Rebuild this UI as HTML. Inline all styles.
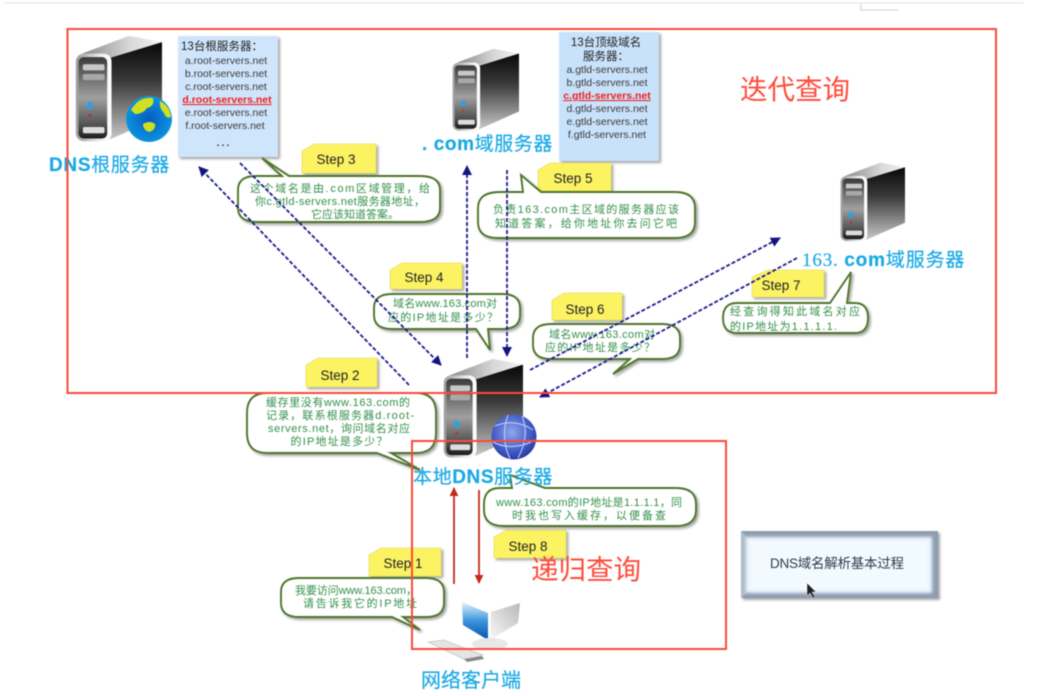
<!DOCTYPE html>
<html><head><meta charset="utf-8">
<style>
html,body{margin:0;padding:0;background:#fff;width:1048px;height:696px;overflow:hidden}
svg{display:block;filter:blur(.5px)}
text{font-family:"Liberation Sans","Noto Sans CJK SC",sans-serif}
.g{fill:#33904a;font-size:11px;text-anchor:middle}
.n{fill:#3a3a3a;font-size:10.5px;text-anchor:middle}
.s{fill:#222;font-size:13.5px;text-anchor:middle}
.b{fill:#1aa9e4;font-size:19px;stroke:#1aa9e4;stroke-width:.2}
.r{fill:#ff4b3a;font-size:27.5px}
.note{fill:#fcf364;stroke:#e0d850;stroke-width:.6;filter:url(#sh)}
.co{fill:#fff;stroke:#50752c;stroke-width:1.9;filter:url(#sh)}
.ar{stroke:#1b1b8f;stroke-width:1.8;stroke-dasharray:4 2;fill:none}
</style></head><body>
<svg width="1048" height="696" viewBox="0 0 1048 696" xmlns="http://www.w3.org/2000/svg">
<defs>
<filter id="sh" x="-10%" y="-10%" width="125%" height="130%"><feDropShadow dx="2" dy="2" stdDeviation="1.2" flood-color="#000" flood-opacity=".35"/></filter>
<filter id="bl" x="-10%" y="-20%" width="120%" height="140%"><feGaussianBlur stdDeviation="3"/></filter>
<filter id="sb" x="-20%" y="-20%" width="140%" height="140%"><feGaussianBlur stdDeviation="1.5"/></filter>
<linearGradient id="side" x1="0" y1="0" x2="0" y2="1"><stop offset="0" stop-color="#080808"/><stop offset=".4" stop-color="#3a3a3a"/><stop offset="1" stop-color="#c8c8c8"/></linearGradient>
<linearGradient id="front" x1="0" y1="0" x2="0" y2="1"><stop offset="0" stop-color="#3a3a3a"/><stop offset=".5" stop-color="#a0a0a0"/><stop offset=".82" stop-color="#555"/><stop offset="1" stop-color="#1c1c1c"/></linearGradient>
<linearGradient id="rim" x1="0" y1="0" x2="1" y2="0"><stop offset="0" stop-color="#9a9a9a"/><stop offset=".7" stop-color="#eee"/><stop offset="1" stop-color="#fff"/></linearGradient>
<linearGradient id="top" x1="0" y1="0" x2="1" y2="0"><stop offset="0" stop-color="#8a8a8a"/><stop offset=".6" stop-color="#d8d8d8"/><stop offset="1" stop-color="#f2f2f2"/></linearGradient>
<radialGradient id="blue" cx=".45" cy=".4" r=".65"><stop offset="0" stop-color="#8fa8ee"/><stop offset=".7" stop-color="#3c55c4"/><stop offset="1" stop-color="#22348f"/></radialGradient>
<radialGradient id="earth" cx=".5" cy=".5" r=".6"><stop offset="0" stop-color="#0a5cc0"/><stop offset=".8" stop-color="#0a90dd"/><stop offset="1" stop-color="#60d8f2"/></radialGradient>
<linearGradient id="scr" x1="0" y1="0" x2="0" y2="1"><stop offset="0" stop-color="#e4f4fb"/><stop offset=".5" stop-color="#3a94dc"/><stop offset="1" stop-color="#0b4fb0"/></linearGradient>
<linearGradient id="mon" x1="1" y1="0" x2="0" y2="1"><stop offset="0" stop-color="#b8b8b8"/><stop offset="1" stop-color="#fafafa"/></linearGradient>
<g id="srv">
<polygon points="8,21 62,1 100,8 40,27" fill="url(#top)"/>
<polygon points="40,26 100,8 100,92 40,118" fill="url(#side)"/>
<rect x="1" y="21" width="41" height="99" rx="9" fill="url(#rim)"/>
<rect x="4" y="25" width="33" height="92" rx="6" fill="url(#front)"/>
<rect x="9" y="33" width="25" height="7" rx="2" fill="#c8c8c8"/>
<rect x="9" y="44" width="25" height="7" rx="2" fill="#a8a8a8"/>
<rect x="9" y="104" width="25" height="7" rx="2" fill="#ddd"/>
<ellipse cx="17" cy="80" rx="3.5" ry="4.5" fill="#2aa0e8"/>
<circle cx="17" cy="91" r="1.5" fill="#d02020"/>
</g>
<marker id="ah" viewBox="0 0 10 10" refX="9" refY="5" markerWidth="11" markerHeight="10" markerUnits="userSpaceOnUse" orient="auto"><path d="M0,0L10,5L0,10z" fill="#14147f"/></marker>
<marker id="rh" viewBox="0 0 10 10" refX="9" refY="5" markerWidth="9" markerHeight="9" markerUnits="userSpaceOnUse" orient="auto"><path d="M0,0L10,5L0,10z" fill="#c5281c"/></marker>
</defs>

<line x1="4" y1="3" x2="1024" y2="3" stroke="#e2e2e2" stroke-width="1"/>
<path d="M861,4V10H898" fill="none" stroke="#cfcfcf"/>

<use href="#srv" transform="translate(75,35) scale(.87,.885)"/>
<use href="#srv" transform="translate(452,48) scale(.67,.69)"/>
<use href="#srv" transform="translate(840,162) scale(.65,.66)"/>
<use href="#srv" transform="translate(443,358) scale(.8,.83)"/>

<circle cx="149" cy="119" r="23" fill="url(#earth)"/>
<path d="M131,110q8,-14 22,-12q2,8 -6,10q-4,6 -12,6zM160,101q10,5 11,16q-5,2 -7,-4q-5,-5 -4,-12zM143,124q7,-4 12,0q1,6 -6,8q-6,-2 -6,-8z" fill="#cfe020"/>
<circle cx="514" cy="437" r="22.5" fill="url(#blue)"/>
<path d="M495,426q20,-8 38,4M493,442q20,10 42,-2M508,415q-8,22 2,44M522,416q8,20 -4,42" fill="none" stroke="#c8d4ff" stroke-width="1"/>

<polygon points="462,602 488,613 488,640 463,625" fill="url(#scr)"/>
<polygon points="491,612 520,603 518,623 490,640" fill="url(#mon)"/>
<ellipse cx="490" cy="644" rx="18" ry="6" fill="#e8e8e8"/>
<polygon points="428,642 444,640 483,655 466,660" fill="#e4e4e4" stroke="#b5b5b5" stroke-width=".6"/>
<polygon points="464,659 482,656 484,659 467,662" fill="#888"/>

<rect x="178" y="36" width="100" height="121" fill="#cfe5fb" filter="url(#sh)"/>
<text x="222" y="50" class="n" style="fill:#222;font-size:11.5px" textLength="82">13台根服务器：</text>
<text x="226" y="64" class="n">a.root-servers.net</text>
<text x="226" y="77" class="n">b.root-servers.net</text>
<text x="226" y="90" class="n">c.root-servers.net</text>
<text x="227" y="103" class="n" style="fill:#f02020;font-weight:bold;text-decoration:underline">d.root-servers.net</text>
<text x="226" y="116" class="n">e.root-servers.net</text>
<text x="225" y="129" class="n">f.root-servers.net</text>
<text x="224" y="146" class="n" style="font-weight:bold;letter-spacing:2px">...</text>

<rect x="559" y="32" width="100" height="129" fill="#c9e2fb" filter="url(#sh)"/>
<text x="606" y="46" class="n" style="fill:#222;font-size:11.5px">13台顶级域名</text>
<text x="606" y="60" class="n" style="fill:#222;font-size:11.5px">服务器：</text>
<text x="607" y="73" class="n">a.gtld-servers.net</text>
<text x="607" y="86" class="n">b.gtld-servers.net</text>
<text x="607" y="99" class="n" style="fill:#f02020;font-weight:bold;text-decoration:underline">c.gtld-servers.net</text>
<text x="607" y="112" class="n">d.gtld-servers.net</text>
<text x="607" y="125" class="n">e.gtld-servers.net</text>
<text x="607" y="138" class="n">f.gtld-servers.net</text>

<polygon class="note" points="314,144 376,144 376,173 302,173 302,151"/>
<polygon class="note" points="550,163 611,163 611,191 538,191 538,170"/>
<polygon class="note" points="402,263 462,263 462,289 390,289 390,270"/>
<polygon class="note" points="564,293 622,293 622,320 552,320 552,300"/>
<polygon class="note" points="768,270 824,270 824,297 752,297 752,277"/>
<polygon class="note" points="318,358 377,358 377,387 306,387 306,365"/>
<polygon class="note" points="506,530 566,530 566,558 494,558 494,537"/>
<polygon class="note" points="381,548 441,548 441,576 369,576 369,555"/>
<text x="336" y="164" class="s">Step 3</text>
<text x="573" y="183" class="s">Step 5</text>
<text x="424" y="282" class="s">Step 4</text>
<text x="585" y="314" class="s">Step 6</text>
<text x="781" y="290" class="s">Step 7</text>
<text x="340" y="380" class="s">Step 2</text>
<text x="528" y="551" class="s">Step 8</text>
<text x="403" y="568" class="s">Step 1</text>

<path class="co" d="M256,176H282L262,158L289,176H420Q440,176 440,190V208Q440,222 420,222H258Q238,222 238,208V190Q238,176 256,176Z"/>
<text x="340" y="192" class="g" textLength="180">这个域名是由.com区域管理，给</text>
<text x="340" y="205" class="g" textLength="170">你c.gtld-servers.net服务器地址，</text>
<text x="355" y="218" class="g">它应该知道答案。</text>

<path class="co" d="M500,192H523L521,175L541,192H675Q695,192 695,208V222Q695,238 675,238H498Q478,238 478,222V208Q478,192 500,192Z"/>
<text x="586" y="213" class="g" textLength="186">负责163.com主区域的服务器应该</text>
<text x="586" y="227" class="g" textLength="182">知道答案，给你地址你去问它吧</text>

<path class="co" d="M392,294H502Q520,294 520,308V315Q520,329 502,329H488L490,350L476,329H392Q374,329 374,315V308Q374,294 392,294Z"/>
<text x="445" y="307" class="g" textLength="104">域名www.163.com对</text>
<text x="443" y="321" class="g" textLength="110">应的IP地址是多少？</text>

<path class="co" d="M551,324H662Q680,324 680,338V345Q680,359 662,359H638L613,374L630,359H551Q533,359 533,345V338Q533,324 551,324Z"/>
<text x="602" y="338" class="g" textLength="106">域名www.163.com对</text>
<text x="600" y="351" class="g" textLength="110">应的IP地址是多少？</text>

<path class="co" d="M737,303H830L851,272L847,303H855Q868,303 868,318Q868,333 855,333H737Q723,333 723,318Q723,303 737,303Z"/>
<text x="795" y="315" class="g" textLength="130">经查询得知此域名对应</text>
<text x="730" y="330" class="g" style="text-anchor:start" textLength="107">的IP地址为1.1.1.1.</text>

<path class="co" d="M267,393H416Q436,393 436,413V433Q436,453 416,453H391L420,470L377,453H267Q247,453 247,433V413Q247,393 267,393Z"/>
<text x="338" y="406" class="g" textLength="144">缓存里没有www.163.com的</text>
<text x="340" y="419" class="g" textLength="148">记录，联系根服务器d.root-</text>
<text x="339" y="432" class="g" textLength="142">servers.net，询问域名对应</text>
<text x="339" y="445" class="g" textLength="97">的IP地址是多少？</text>

<path class="co" d="M500,488H512L510,475L545,488H676Q696,488 696,504V510Q696,526 676,526H504Q484,526 484,510V504Q484,488 500,488Z"/>
<text x="589" y="506" class="g" textLength="186">www.163.com的IP地址是1.1.1.1，同</text>
<text x="589" y="519" class="g" textLength="154">时我也写入缓存，以便备查</text>

<path class="co" d="M299,578H426Q444,578 444,592V603Q444,617 426,617H403L420,630L392,617H299Q281,617 281,603V592Q281,578 299,578Z"/>
<text x="356" y="594" class="g" textLength="122">我要访问www.163.com，</text>
<text x="360" y="607" class="g" textLength="114">请告诉我它的IP地址</text>

<line class="ar" x1="409" y1="385" x2="199" y2="167" marker-end="url(#ah)"/>
<line class="ar" x1="240" y1="163" x2="441" y2="365" marker-end="url(#ah)"/>
<line class="ar" x1="467" y1="358" x2="467" y2="166" marker-end="url(#ah)"/>
<line class="ar" x1="507" y1="170" x2="507" y2="356" marker-end="url(#ah)"/>
<line class="ar" x1="530" y1="370" x2="780" y2="238" marker-end="url(#ah)"/>
<line class="ar" x1="797" y1="258" x2="540" y2="397" marker-end="url(#ah)"/>
<line x1="454" y1="584" x2="454" y2="488" stroke="#c5281c" stroke-width="1.8" marker-end="url(#rh)"/>
<line x1="479" y1="490" x2="479" y2="583" stroke="#c5281c" stroke-width="1.8" marker-end="url(#rh)"/>

<text x="49" y="171" class="b" style="letter-spacing:.7px"><tspan font-weight="bold">DNS</tspan>根服务器</text>
<text x="422" y="150" class="b" style="letter-spacing:.6px"><tspan font-weight="bold">. com</tspan>域服务器</text>
<text x="802" y="266" class="b" style="letter-spacing:.85px"><tspan style="font-family:'Liberation Serif',serif">163. </tspan><tspan font-weight="bold">com</tspan>域服务器</text>
<text x="413" y="483" class="b" style="letter-spacing:.6px"><tspan>本地</tspan><tspan font-weight="bold">DNS</tspan>服务器</text>
<text x="421" y="687" class="b" style="font-size:20px">网络客户端</text>
<text x="740" y="99" class="r">迭代查询</text>
<text x="531" y="579" class="r">递归查询</text>

<rect x="741" y="531" width="197" height="67" fill="#8d9cb0" filter="url(#sh)"/>
<polygon points="741,531 938,531 929,538 748,538" fill="#8f9db0"/>
<polygon points="741,531 748,538 748,592 741,598" fill="#aebbcb"/>
<rect x="746" y="537" width="186" height="56" fill="#eef7ff" filter="url(#sb)"/>
<rect x="752" y="542" width="174" height="46" fill="#f3faff"/>
<text x="837" y="568" style="font-size:13.5px;fill:#2f3b4c;text-anchor:middle" textLength="134">DNS域名解析基本过程</text>
<path d="M807,583V596L810,593L813,598L815,597L812,592L816,592Z" fill="#222" stroke="#fff" stroke-width=".4"/>

<rect x="67.5" y="29" width="928.5" height="364" fill="none" stroke="#fb4a3a" stroke-width="2"/>
<rect x="412" y="441" width="314" height="208" fill="none" stroke="#fb4a3a" stroke-width="2"/>
</svg>
</body></html>
